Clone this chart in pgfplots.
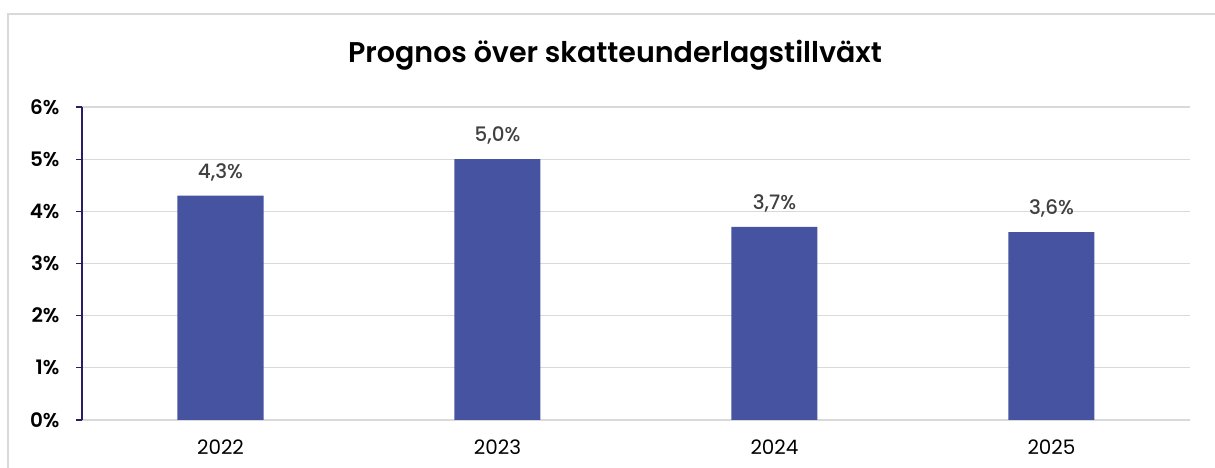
\documentclass[border=0pt]{standalone}
\usepackage{fontspec}
\setmainfont{Poppins}
\newfontfamily\poppinsmed{Poppins Medium}
\newfontfamily\poppinssemi{Poppins SemiBold}
\usepackage{pgfplots}
\pgfplotsset{compat=1.18}
\definecolor{barblue}{RGB}{70,83,160}
\definecolor{gridgray}{RGB}{217,217,217}
\definecolor{axisnavy}{RGB}{40,30,100}
\definecolor{labelgray}{RGB}{64,64,64}
\begin{document}
\begin{tikzpicture}[x=1bp,y=1bp]
\useasboundingbox (0,0) rectangle (1215,468);
\draw[gridgray, line width=1.5bp] (8,0) -- (8,454) -- (1215,454);
\node[font=\poppinssemi\fontsize{28.6}{32}\selectfont] at (615,413) {Prognos över skatteunderlagstillväxt};
\begin{axis}[
  at={(82bp,48bp)}, anchor=south west,
  scale only axis, width=1108bp, height=313bp,
  xmin=-0.5, xmax=3.5, ymin=0, ymax=6,
  ytick={0,1,2,3,4,5,6},
  yticklabels={0\%,1\%,2\%,3\%,4\%,5\%,6\%},
  xtick={0,1,2,3}, xticklabels={2022,2023,2024,2025},
  ymajorgrids, grid style={gridgray, line width=1.2bp},
  axis y line*=left, axis x line*=bottom,
  x axis line style={draw=gridgray, line width=1.2bp, -},
  y axis line style={draw=axisnavy, line width=1.3bp, -},
  xtick style={draw=none},
  ytick style={draw=axisnavy, line width=1.3bp},
  major tick length=6bp, tick align=outside,
  yticklabel style={font=\poppinssemi\fontsize{20}{22}\selectfont, text=black, xshift=-13bp},
  xticklabel style={font=\fontsize{20}{22}\selectfont, text=black, yshift=-10bp},
  nodes near coords={\pgfmathprintnumber[fixed,fixed zerofill,precision=1,use comma,assume math mode=true]{\pgfplotspointmeta}\%},
  nodes near coords style={font=\poppinsmed\fontsize{20}{22}\selectfont, text=labelgray, yshift=11bp},
  clip=false,
]
\addplot[ybar, bar width=86bp, fill=barblue, draw=none] coordinates {(0,4.3) (1,5.0) (2,3.7) (3,3.6)};
\end{axis}
\end{tikzpicture}
\end{document}
